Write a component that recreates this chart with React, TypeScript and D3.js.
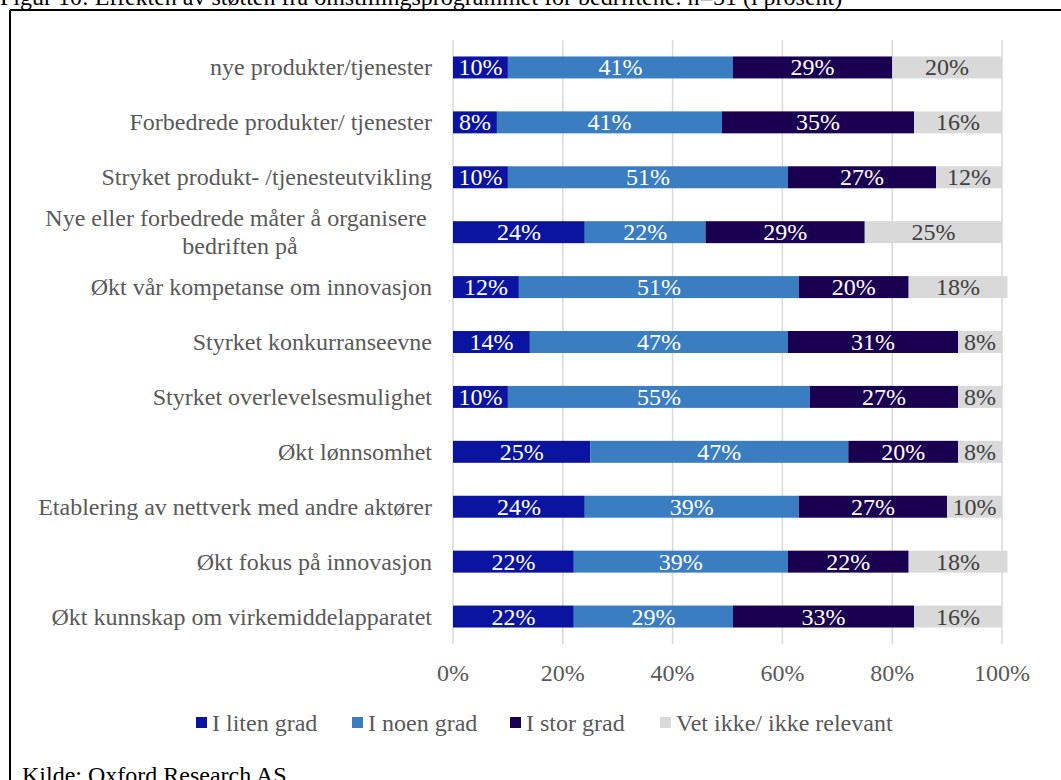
import React, { useEffect } from "react";
import * as d3 from "d3";

const categories = [
  "nye produkter/tjenester",
  "Forbedrede produkter/ tjenester",
  "Stryket produkt- /tjenesteutvikling",
  "Nye eller forbedrede måter å organisere|bedriften på",
  "Økt vår kompetanse om innovasjon",
  "Styrket konkurranseevne",
  "Styrket overlevelsesmulighet",
  "Økt lønnsomhet",
  "Etablering av nettverk med andre aktører",
  "Økt fokus på innovasjon",
  "Økt kunnskap om virkemiddelapparatet",
];

const seriesNames = ["I liten grad", "I noen grad", "I stor grad", "Vet ikke/ ikke relevant"];
const litenGrad = [10, 8, 10, 24, 12, 14, 10, 25, 24, 22, 22];
const noenGrad = [41, 41, 51, 22, 51, 47, 55, 47, 39, 39, 29];
const storGrad = [29, 35, 27, 29, 20, 31, 27, 20, 27, 22, 33];
const vetIkke = [20, 16, 12, 25, 18, 8, 8, 8, 10, 18, 16];
const xTicks = [0, 20, 40, 60, 80, 100];

const colors = ["#0A14A0", "#3A7DC0", "#1A0050", "#D9D9D9"];
const labelColors = ["#ffffff", "#ffffff", "#ffffff", "#404040"];

const title = "Figur 10: Effekten av støtten fra omstillingsprogrammet for bedriftene. n=51 (i prosent)";
const source = "Kilde: Oxford Research AS";

export default function App() {
  useEffect(() => {
    document.body.style.margin = "0";
    document.body.style.overflow = "hidden";
  }, []);

  const W = 1061;
  const H = 780;
  const x = d3.scaleLinear().domain([0, 100]).range([453, 1002]);
  const y = d3
    .scaleBand<string>()
    .domain(categories)
    .range([40, 644])
    .paddingInner(0.6)
    .paddingOuter(0.3);

  const series = [litenGrad, noenGrad, storGrad, vetIkke];
  const table = categories.map((c, i) => {
    const row: any = { cat: c };
    seriesNames.forEach((s, k) => (row[s] = series[k][i]));
    return row;
  });
  const stacked = d3.stack<any>().keys(seriesNames)(table);

  const font = "'Liberation Serif', 'Times New Roman', serif";
  const gray = "#595959";
  const fs = 24;

  const legendX = [196, 352, 510, 660];

  return (
    <svg width={W} height={H} style={{ position: "absolute", left: 0, top: 0, fontFamily: font }}>
      <rect x={0} y={0} width={W} height={H} fill="#ffffff" />
      <text x={0} y={5} fontSize={24} fill="#000">{title}</text>
      <line x1={10} y1={10} x2={W} y2={10} stroke="#000" strokeWidth={2} />
      <line x1={10} y1={10} x2={10} y2={H} stroke="#000" strokeWidth={2} />

      {xTicks.map((t) => (
        <line key={"g" + t} x1={x(t)} x2={x(t)} y1={40} y2={644} stroke="#D9D9D9" strokeWidth={1.5} />
      ))}

      {stacked.map((s, k) => (
        <g key={s.key}>
          {s.map((d, i) => {
            const y0 = y(categories[i])!;
            const bw = y.bandwidth();
            const x0 = x(d[0]);
            const x1 = x(d[1]);
            return (
              <g key={i}>
                <rect x={x0} y={y0} width={x1 - x0} height={bw} fill={colors[k]} />
                <text
                  x={(x0 + x1) / 2}
                  y={y0 + bw / 2 + 8}
                  textAnchor="middle"
                  fontSize={fs}
                  fill={labelColors[k]}
                >
                  {series[k][i]}%
                </text>
              </g>
            );
          })}
        </g>
      ))}

      {categories.map((c) => {
        const cy = y(c)! + y.bandwidth() / 2;
        const parts = c.split("|");
        if (parts.length === 1) {
          return (
            <text key={c} x={432} y={cy + 8} textAnchor="end" fontSize={fs} fill={gray}>
              {c}
            </text>
          );
        }
        return (
          <text key={c} x={236} textAnchor="middle" fontSize={fs} fill={gray}>
            <tspan x={236} y={cy - 6}>{parts[0]}</tspan>
            <tspan x={240} y={cy + 22}>{parts[1]}</tspan>
          </text>
        );
      })}

      {xTicks.map((t) => (
        <text key={"t" + t} x={x(t)} y={681} textAnchor="middle" fontSize={fs} fill={gray}>
          {t}%
        </text>
      ))}

      {seriesNames.map((s, k) => (
        <g key={"l" + s}>
          <rect x={legendX[k]} y={717} width={11} height={11} fill={colors[k]} />
          <text x={legendX[k] + 16} y={731} fontSize={fs} fill={gray}>
            {s}
          </text>
        </g>
      ))}

      <text x={22} y={783} fontSize={fs} fill="#000">{source}</text>
    </svg>
  );
}
